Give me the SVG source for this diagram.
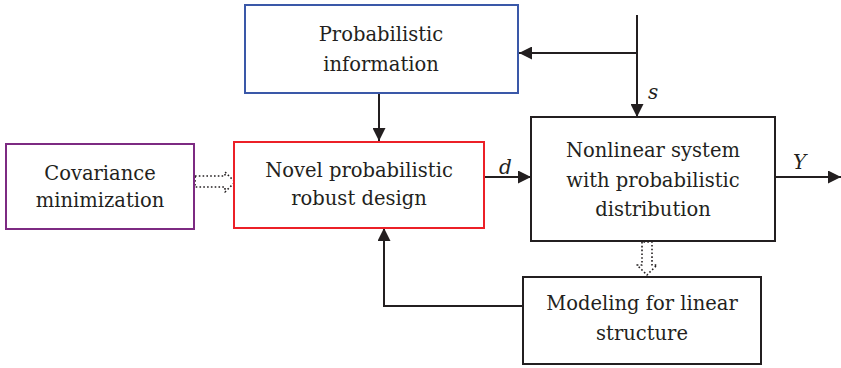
<svg xmlns="http://www.w3.org/2000/svg" width="841" height="368" viewBox="0 0 841 368">
  <style>
    .box { fill: #ffffff; stroke-width: 2; }
    .lbl { font-family: "DejaVu Serif", "Liberation Serif", serif; font-size: 19.5px; fill: #231f20; text-anchor: middle; }
    .var { font-family: "DejaVu Serif", "Liberation Serif", serif; font-size: 20px; font-style: italic; fill: #231f20; }
    .wire { fill: none; stroke: #231f20; stroke-width: 2; }
    .hollow { fill: #ffffff; stroke: #231f20; stroke-width: 1.6; stroke-dasharray: 1.6 2.2; stroke-linejoin: round; }
  </style>
  <defs>
    <marker id="arrowBig" viewBox="0 0 10 10" refX="10" refY="5" markerWidth="13" markerHeight="13" markerUnits="userSpaceOnUse" orient="auto">
      <path d="M0,0 L10,5 L0,10 z" fill="#231f20"/>
    </marker>
  </defs>

  <g id="connectors">
    <!-- disturbance s: vertical input with branch to the information block -->
    <path class="wire" d="M637,15 V117" marker-end="url(#arrowBig)"/>
    <path class="wire" d="M637,53 H519" marker-end="url(#arrowBig)"/>
    <!-- information to design -->
    <path class="wire" d="M379,94 V141" marker-end="url(#arrowBig)"/>
    <!-- design output d -->
    <path class="wire" d="M485,177 H531" marker-end="url(#arrowBig)"/>
    <!-- system output Y -->
    <path class="wire" d="M776,177 H841" marker-end="url(#arrowBig)"/>
    <!-- feedback from the linear model -->
    <path class="wire" d="M523,306 H384 V228" marker-end="url(#arrowBig)"/>
    <!-- hollow dotted arrows -->
    <path class="hollow" d="M195,176 H225 V172 L235,182 L225,192 V187 H195 Z"/>
    <path class="hollow" d="M642,242 V265 H637 L647,275 L657,265 H652 V242 Z"/>
  </g>

  <text class="var" x="648" y="99">s</text>
  <text class="var" x="499" y="174">d</text>
  <text class="var" x="793" y="169">Y</text>

  <g id="prob-info">
    <rect class="box" x="245" y="5" width="273" height="88" stroke="#3a58a8"/>
    <text class="lbl" x="381" y="41">Probabilistic</text>
    <text class="lbl" x="381" y="71">information</text>
  </g>

  <g id="cov-min">
    <rect class="box" x="6" y="144" width="188" height="85" stroke="#7d2a82"/>
    <text class="lbl" x="100" y="180">Covariance</text>
    <text class="lbl" x="100" y="207">minimization</text>
  </g>

  <g id="robust-design">
    <rect class="box" x="234" y="142" width="250" height="86" stroke="#ec2027"/>
    <text class="lbl" x="359" y="177">Novel probabilistic</text>
    <text class="lbl" x="359" y="205">robust design</text>
  </g>

  <g id="nonlinear-system">
    <rect class="box" x="531" y="117" width="244" height="124" stroke="#231f20"/>
    <text class="lbl" x="653" y="157">Nonlinear system</text>
    <text class="lbl" x="653" y="187">with probabilistic</text>
    <text class="lbl" x="653" y="216">distribution</text>
  </g>

  <g id="linear-model">
    <rect class="box" x="523" y="277" width="238" height="87" stroke="#231f20"/>
    <text class="lbl" x="642" y="310">Modeling for linear</text>
    <text class="lbl" x="642" y="340">structure</text>
  </g>
</svg>
